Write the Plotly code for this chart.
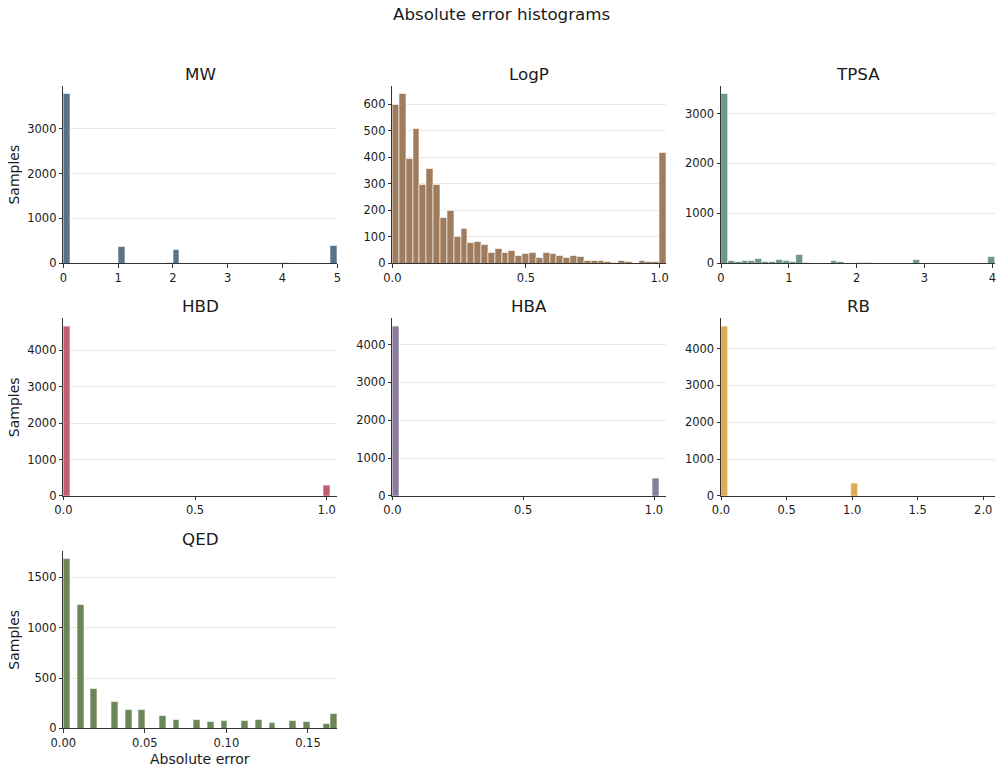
import numpy as np
import plotly.graph_objects as go

W, H = 1003, 772

# ---------------- data (40 bins per panel, from 0 to x_max) ----------------
panel_names = ["MW", "LogP", "TPSA", "HBD", "HBA", "RB", "QED"]
x_max = [5.0, 1.025, 4.04, 1.04, 1.047, 2.09, 0.168]

mw_counts = [3770, 0, 0, 0, 0, 0, 0, 0, 357, 0,
             0, 0, 0, 0, 0, 15, 312, 0, 0, 0,
             0, 0, 0, 0, 0, 0, 0, 0, 0, 0,
             0, 0, 15, 0, 0, 0, 0, 0, 0, 392]
logp_counts = [600, 638, 393, 507, 298, 358, 297, 172, 198, 99,
               129, 79, 82, 69, 39, 54, 38, 46, 29, 35,
               38, 19, 38, 34, 29, 20, 28, 24, 11, 11,
               11, 7, 3, 11, 6, 0, 8, 5, 5, 418]
tpsa_counts = [3386, 47, 30, 50, 47, 100, 37, 27, 77, 47,
               40, 168, 13, 0, 0, 0, 50, 24, 0, 0,
               12, 5, 0, 0, 0, 0, 0, 0, 64, 0,
               0, 0, 0, 0, 0, 0, 0, 0, 0, 134]
hbd_counts = [4645, 0, 0, 0, 0, 0, 0, 0, 0, 0,
              0, 0, 0, 0, 0, 0, 0, 0, 0, 0,
              0, 0, 0, 0, 0, 0, 0, 0, 0, 0,
              0, 0, 0, 0, 0, 0, 0, 0, 295, 0]
hba_counts = [4470, 0, 0, 0, 0, 0, 0, 0, 0, 0,
              0, 0, 0, 0, 0, 0, 0, 0, 0, 0,
              0, 0, 0, 0, 0, 0, 0, 0, 0, 0,
              0, 0, 0, 0, 0, 0, 0, 0, 462, 0]
rb_counts = [4592, 0, 0, 0, 0, 0, 0, 0, 0, 0,
             0, 0, 0, 0, 0, 0, 0, 0, 0, 327,
             0, 0, 0, 0, 0, 0, 0, 0, 0, 0,
             0, 0, 0, 0, 0, 0, 0, 0, 0, 0]
qed_counts = [1678, 0, 1225, 0, 391, 0, 0, 260, 0, 181,
              0, 181, 0, 0, 127, 0, 88, 0, 0, 85,
              0, 67, 0, 77, 0, 0, 72, 0, 83, 0,
              57, 0, 0, 70, 0, 67, 0, 0, 43, 143]

x_tickvals = [
    [0, 1, 2, 3, 4, 5],
    [0.0, 0.5, 1.0],
    [0, 1, 2, 3, 4],
    [0.0, 0.5, 1.0],
    [0.0, 0.5, 1.0],
    [0.0, 0.5, 1.0, 1.5, 2.0],
    [0.00, 0.05, 0.10, 0.15],
]
x_tickformat = ["d", ".1f", "d", ".1f", ".1f", ".1f", ".2f"]
y_tickvals = [
    [0, 1000, 2000, 3000],
    [0, 100, 200, 300, 400, 500, 600],
    [0, 1000, 2000, 3000],
    [0, 1000, 2000, 3000, 4000],
    [0, 1000, 2000, 3000, 4000],
    [0, 1000, 2000, 3000, 4000],
    [0, 500, 1000, 1500],
]
all_counts = [mw_counts, logp_counts, tpsa_counts, hbd_counts,
              hba_counts, rb_counts, qed_counts]

# ---------------- styles ----------------
colors = ["#5b7387", "#a07c5e", "#6f9a8b", "#c0606f", "#8a7d9b", "#e0aa50", "#6b875a"]
col_px = [(63.3, 337.3), (392.3, 666.3), (721.0, 995.0)]
row_px = [(85.8, 263.3), (318.4, 495.9), (550.9, 728.4)]
FONT = "DejaVu Sans"
TXT = "#1a1a1a"
AX = "#333333"
GRID = "#ebe8e1"


def px_x(v):
    return v / W


def px_y(v):
    return 1 - v / H


fig = go.Figure()
annotations = []

for i, name in enumerate(panel_names):
    r, c = divmod(i, 3)
    counts = np.array(all_counts[i], dtype=float)
    nb = len(counts)
    edges = np.linspace(0, x_max[i], nb + 1)
    centers = (edges[:-1] + edges[1:]) / 2
    width = edges[1] - edges[0]
    sfx = "" if i == 0 else str(i + 1)
    fig.add_trace(go.Bar(
        x=centers, y=counts, width=width,
        marker=dict(color=colors[i], line=dict(color="white", width=0.6)),
        xaxis="x" + sfx, yaxis="y" + sfx, showlegend=False,
        hovertemplate="%{x}: %{y}<extra></extra>",
    ))
    x0, x1 = col_px[c]
    y0, y1 = row_px[r]
    ymax = counts.max() * 1.05
    fig.layout["xaxis" + sfx] = dict(
        domain=[px_x(x0), px_x(x1)], range=[0, x_max[i]], anchor="y" + sfx,
        showline=True, linecolor=AX, linewidth=1, mirror=False,
        ticks="outside", ticklen=3.5, tickwidth=1, tickcolor=AX,
        tickvals=x_tickvals[i], tickformat=x_tickformat[i],
        tickfont=dict(family=FONT, size=11.5, color=TXT),
        showgrid=False, zeroline=False, fixedrange=True, automargin=False,
    )
    fig.layout["yaxis" + sfx] = dict(
        domain=[px_y(y1), px_y(y0)], range=[0, ymax], anchor="x" + sfx,
        showline=True, linecolor=AX, linewidth=1,
        ticks="outside", ticklen=3.5, tickwidth=1, tickcolor=AX,
        tickvals=y_tickvals[i], tickformat="d",
        tickfont=dict(family=FONT, size=11.5, color=TXT),
        showgrid=True, gridcolor=GRID, gridwidth=1, zeroline=False,
        fixedrange=True, automargin=False,
    )
    annotations.append(dict(
        text=name, x=px_x((x0 + x1) / 2), y=px_y(y0 - 12.3), xref="paper", yref="paper",
        xanchor="center", yanchor="middle", showarrow=False,
        font=dict(family=FONT, size=16.7, color=TXT),
    ))
    if c == 0:
        annotations.append(dict(
            text="Samples", x=px_x(14), y=px_y((y0 + y1) / 2), xref="paper", yref="paper",
            xanchor="center", yanchor="middle", showarrow=False, textangle=-90,
            font=dict(family=FONT, size=14, color=TXT),
        ))

annotations.append(dict(
    text="Absolute error", x=px_x((col_px[0][0] + col_px[0][1]) / 2), y=px_y(759),
    xref="paper", yref="paper", xanchor="center", yanchor="middle", showarrow=False,
    font=dict(family=FONT, size=14, color=TXT),
))
annotations.append(dict(
    text="Absolute error histograms", x=px_x(501.5), y=px_y(14), xref="paper", yref="paper",
    xanchor="center", yanchor="middle", showarrow=False,
    font=dict(family=FONT, size=16.7, color=TXT),
))

fig.update_layout(
    width=W, height=H, margin=dict(l=0, r=0, t=0, b=0, autoexpand=False),
    paper_bgcolor="white", plot_bgcolor="white",
    bargap=0, annotations=annotations, showlegend=False,
    font=dict(family=FONT, color=TXT),
)

fig.write_html("out.html", config={"displayModeBar": False})
